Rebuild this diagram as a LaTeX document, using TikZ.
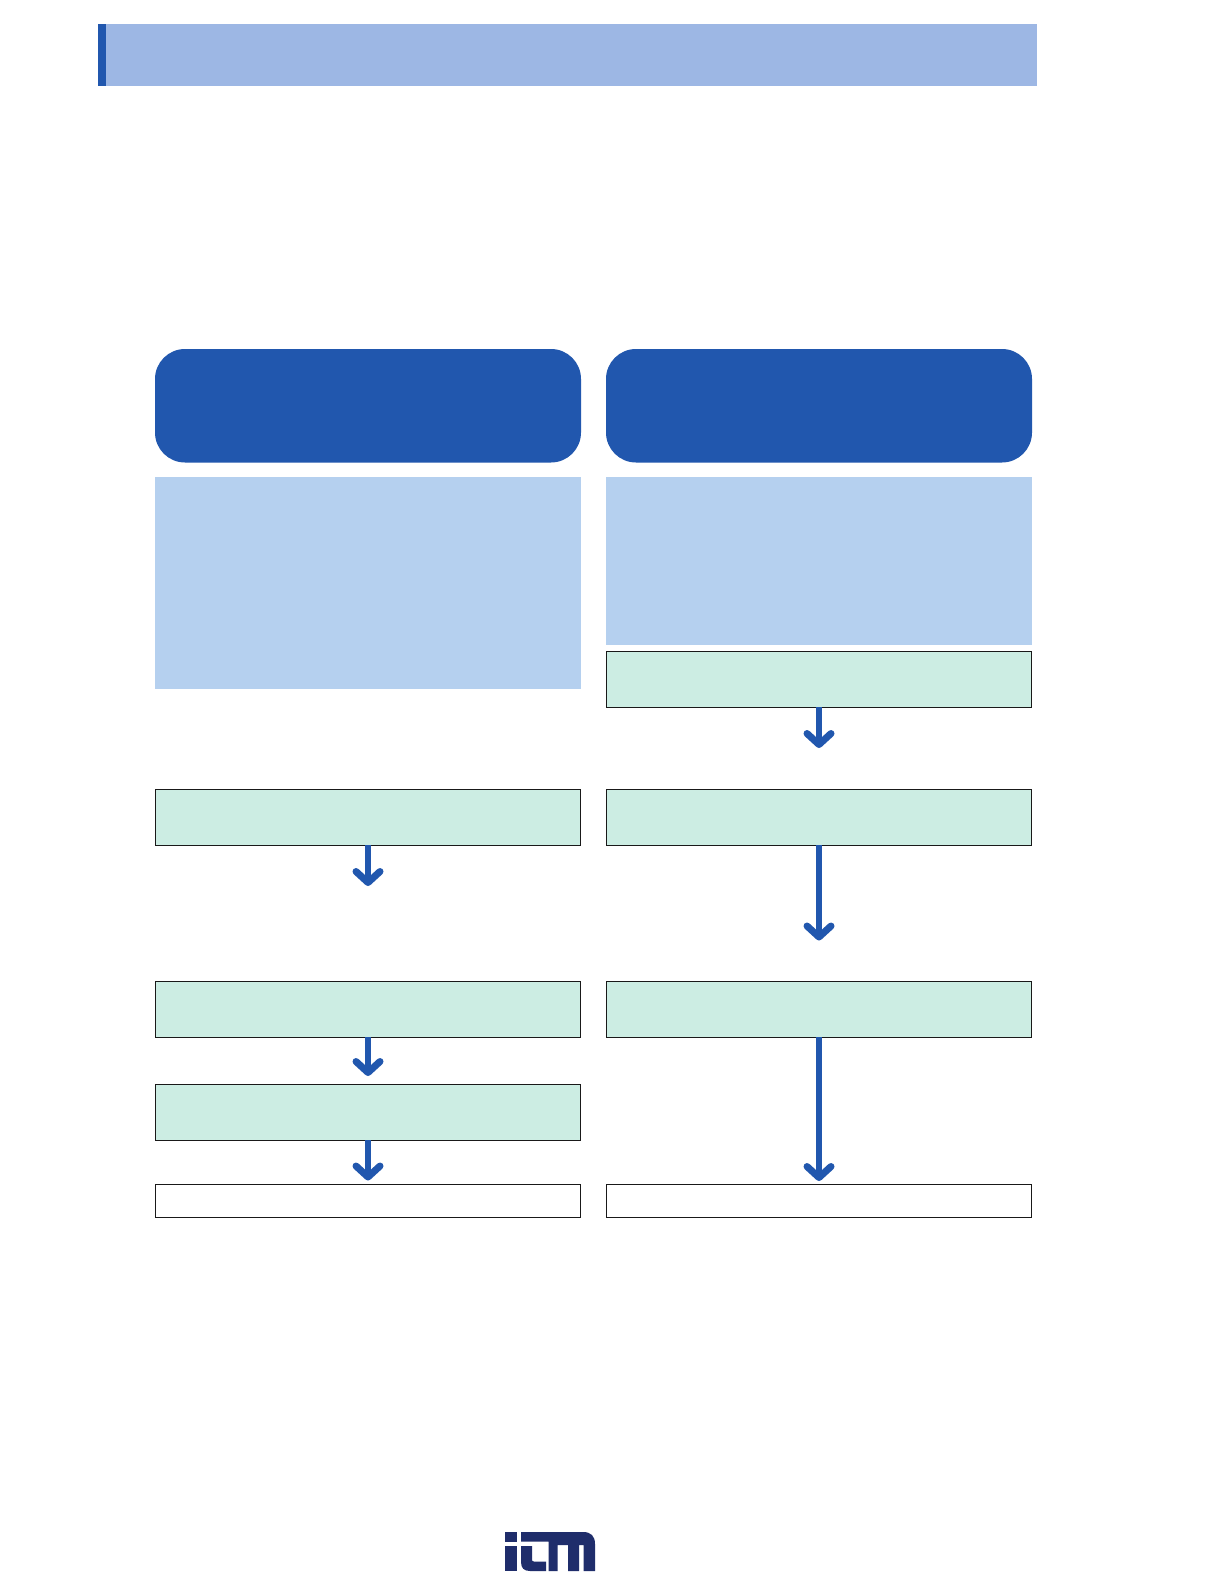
\documentclass[tikz,border=0pt]{standalone}
\usetikzlibrary{arrows.meta}
\definecolor{bluedark}{HTML}{2157AE}
\definecolor{bluemid}{HTML}{9DB7E4}
\definecolor{bluelight}{HTML}{B5D0EF}
\definecolor{greenpale}{HTML}{CCEDE3}
\definecolor{logoblue}{HTML}{1F2D6B}
\tikzset{
  box/.style={anchor=north west,inner sep=0pt,outer sep=0pt,minimum width=425.4pt},
  headbox/.style={box,fill=bluedark,rounded corners=30pt,minimum height=113.5pt,minimum width=426pt},
  infobox/.style={box,fill=bluelight,minimum width=426pt},
  greenbox/.style={box,fill=greenpale,draw=black!90,line width=1pt,minimum height=56pt},
  whitebox/.style={box,fill=white,draw=black!90,line width=1pt,minimum height=33pt},
  flow/.style={draw=bluedark,line width=6pt,-{Straight Barb[length=11pt,width=24pt,round,line width=7pt]}},
}
\begin{document}
\begin{tikzpicture}[x=1pt,y=-1pt]
\useasboundingbox (0,0) rectangle (1224,1584);
\fill[white] (0,0) rectangle (1224,1584);
% banner
\node[anchor=north west,inner sep=0pt,outer sep=0pt,fill=bluemid,minimum width=939pt,minimum height=62pt] (banner) at (98,24) {};
\node[anchor=north west,inner sep=0pt,outer sep=0pt,fill=bluedark,minimum width=8pt,minimum height=62pt] (bannerbar) at (98,24) {};
% column headers
\node[headbox] (headL) at (155,349) {};
\node[headbox] (headR) at (606,349) {};
% info panels
\node[infobox,minimum height=212pt] (infoL) at (155,477) {};
\node[infobox,minimum height=168pt] (infoR) at (606,477) {};
% boxes
\node[greenbox] (r1) at (606.3,651.3) {};
\node[greenbox] (r2) at (606.3,789.3) {};
\node[greenbox] (r3) at (606.3,981.3) {};
\node[whitebox] (r4) at (606.3,1184.3) {};
\node[greenbox] (l1) at (155.3,789.3) {};
\node[greenbox] (l2) at (155.3,981.3) {};
\node[greenbox] (l3) at (155.3,1084.3) {};
\node[whitebox] (l4) at (155.3,1184.3) {};
% arrow ends
\coordinate (tr1) at (819,748);
\coordinate (tr2) at (819,940.5);
\coordinate (tr3) at (819,1181);
\coordinate (tl1) at (368,886);
\coordinate (tl2) at (368,1076);
\coordinate (tl3) at (368,1180.5);
\draw[flow] (r1.south) -- (tr1);
\draw[flow] (r2.south) -- (tr2);
\draw[flow] (r3.south) -- (tr3);
\draw[flow] (l1.south) -- (tl1);
\draw[flow] (l2.south) -- (tl2);
\draw[flow] (l3.south) -- (tl3);
% logo
\fill[logoblue] (505,1532) rectangle (516.5,1541.5);
\fill[logoblue] (505,1546) rectangle (516.5,1571);
\fill[logoblue] (521,1546) -- (532,1546) -- (532,1559.5) .. controls (532,1561) and (532.5,1561.5) .. (534,1561.5) -- (546,1561.5) -- (546,1571) -- (530,1571) .. controls (524,1571) and (521,1568) .. (521,1562) -- cycle;
\fill[logoblue] (521,1532) -- (583,1532) .. controls (591,1532) and (595,1536) .. (595,1544) -- (595,1571) -- (583.5,1571) -- (583.5,1545) -- (579,1545) -- (579,1571) -- (568,1571) -- (568,1545) -- (557.5,1545) -- (557.5,1571) -- (548.5,1571) -- (548.5,1541.5) -- (521,1541.5) -- cycle;
\end{tikzpicture}
\end{document}
